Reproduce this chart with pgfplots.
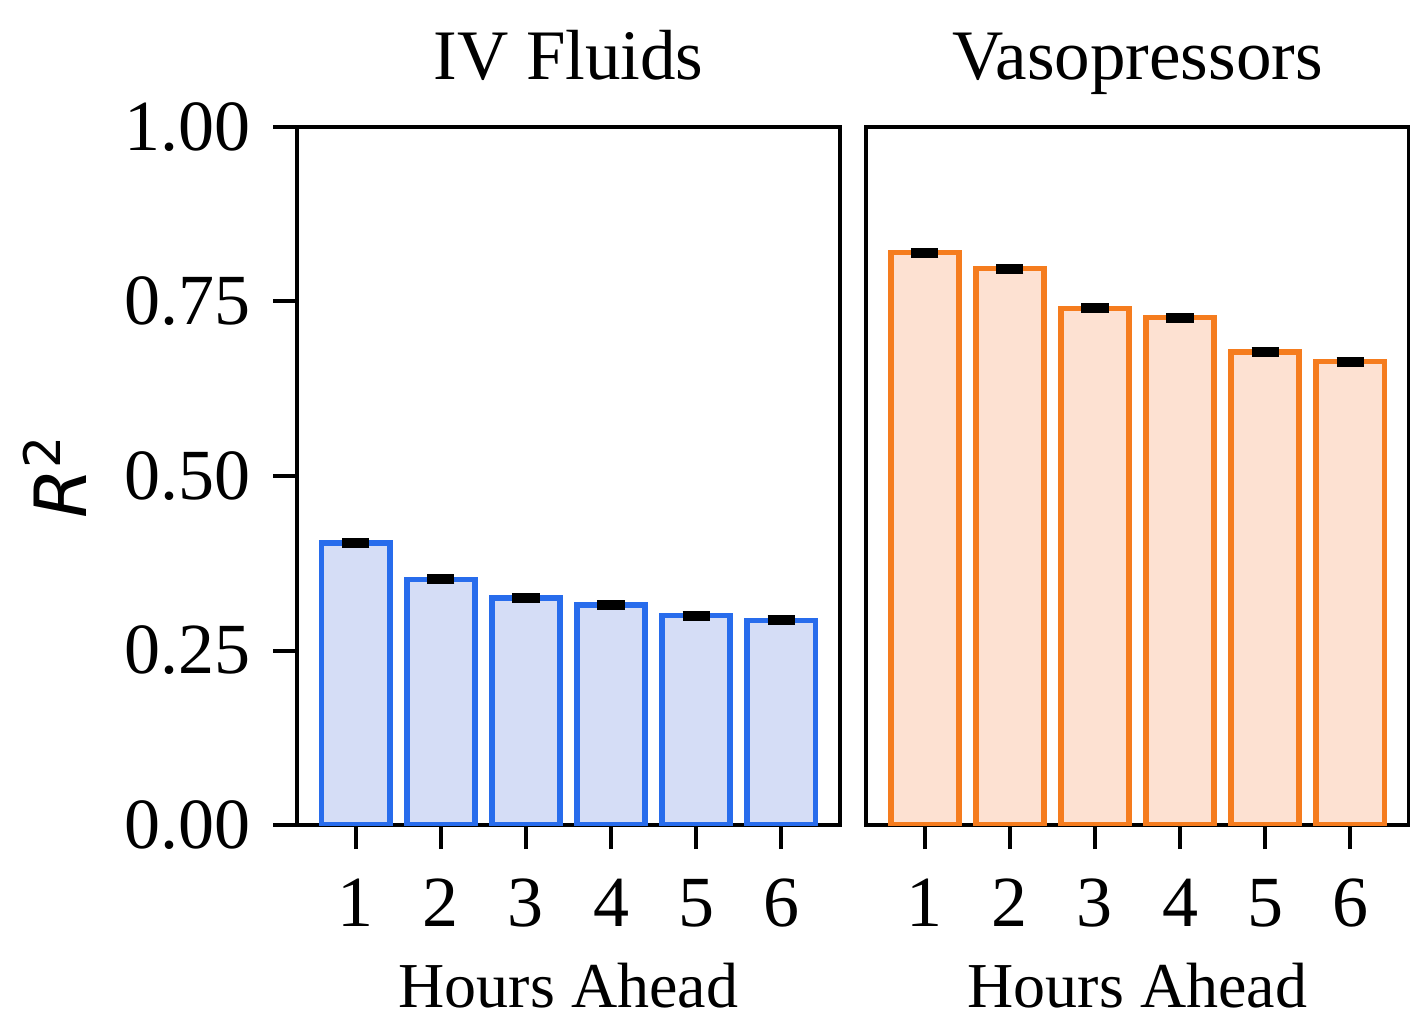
\documentclass[border=0pt]{standalone}
\usepackage{fontspec}
\setmainfont{Liberation Serif}
\newfontfamily\dejavu{DejaVu Sans}
\usepackage{pgfplots}
\pgfplotsset{compat=1.18}
\definecolor{bEdge}{RGB}{40,108,236}
\definecolor{bFill}{RGB}{213,221,246}
\definecolor{oEdge}{RGB}{245,124,30}
\definecolor{oFill}{RGB}{253,225,210}
\pgfplotsset{
  common/.style={
    scale only axis, width=135.75pt, height=174.5pt,
    anchor=south west,
    xmin=0.31, xmax=6.69, ymin=0, ymax=1,
    axis line style={line width=1pt},
    xtick={1,2,3,4,5,6},
    tick align=outside, major tick length=6pt,
    tick style={line width=1pt, black},
    xtick pos=bottom, ytick pos=left,
    /pgf/number format/assume math mode=true,
    ticklabel style={font=\fontsize{18}{21}\selectfont},
    xticklabel style={yshift=-4pt},
    title style={font=\fontsize{17.75}{21}\selectfont, at={(axis description cs:0.5,1.033)}, anchor=base},
    xlabel style={font=\fontsize{16}{19}\selectfont, at={(axis description cs:0.5,-0.262)}, anchor=base},
    xlabel={Hours Ahead},
    ybar, bar width=0.8,
  },
  errs/.style={error bars/.cd, y dir=both, y explicit, error mark=|,
    error bar style={line width=1.8pt, black},
    error mark options={black, line width=1.8pt, mark size=3.4pt}},
}
\begin{document}
\begin{tikzpicture}
\path[use as bounding box] (0,0) rectangle (352.5pt,254.25pt);
\begin{axis}[common, at={(74.25pt,48pt)},
  title={IV Fluids},
  ytick={0,0.25,0.5,0.75,1},
  yticklabels={0.00,0.25,0.50,0.75,1.00},
  yticklabel style={xshift=-2pt},
  ylabel={{\dejavu\itshape R}\textsuperscript{\dejavu 2}},
  ylabel style={font=\fontsize{18}{21}\selectfont, at={(axis description cs:-0.446,0.5)}, anchor=center},
]
\addplot[draw=bEdge, fill=bFill, line width=1.4pt, errs] coordinates {
(1,0.404) +- (0,0.002)
(2,0.352) +- (0,0.002)
(3,0.325) +- (0,0.002)
(4,0.315) +- (0,0.002)
(5,0.300) +- (0,0.002)
(6,0.293) +- (0,0.002)
};
\end{axis}
\begin{axis}[common, at={(216.5pt,48pt)},
  title={Vasopressors},
  ytick=\empty,
]
\addplot[draw=oEdge, fill=oFill, line width=1.4pt, errs] coordinates {
(1,0.820) +- (0,0.002)
(2,0.797) +- (0,0.002)
(3,0.740) +- (0,0.002)
(4,0.727) +- (0,0.002)
(5,0.678) +- (0,0.002)
(6,0.664) +- (0,0.002)
};
\end{axis}
\end{tikzpicture}
\end{document}
